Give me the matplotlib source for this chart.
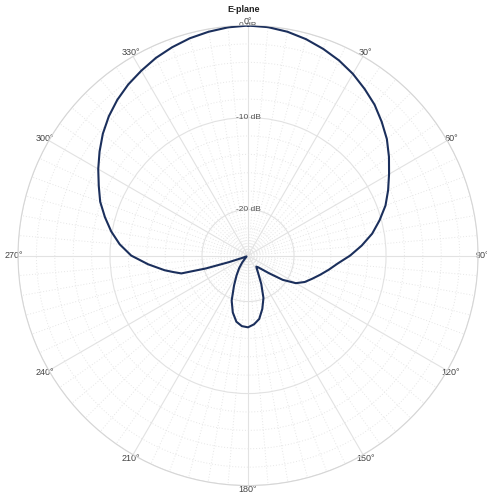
import numpy as np
import matplotlib
matplotlib.use("Agg")
import matplotlib.pyplot as plt

plt.rcParams['font.family'] = ['Liberation Sans', 'DejaVu Sans']

# E-plane pattern (angle in degrees, gain in dB)
angles_deg = [0, 5, 10, 15, 20, 25, 30, 35, 40, 45, 50, 55, 60, 65, 70,
              75, 80, 85, 90, 95, 100, 105, 110, 115, 120, 125, 130, 135,
              139, 143, 147, 150, 155, 160, 165, 170, 175, 180, 185, 190,
              195, 200, 205, 210, 215, 220, 227, 235, 242, 248, 251, 253,
              255, 257.5, 260, 265, 270, 275, 280, 285, 290, 295, 300, 305,
              310, 315, 320, 325, 330, 335, 340, 345, 350, 355, 360]
gain_db = [0.0, -0.08, -0.3, -0.65, -1.1, -1.6, -2.2, -2.9, -3.6, -4.45,
           -5.3, -6.3, -7.3, -8.2, -9.1, -10.2, -11.3, -12.6, -13.9, -15.2,
           -16.1, -16.9, -17.6, -18.2, -19.0, -20.4, -22.0, -22.9, -23.3,
           -23.5, -23.2, -22.8, -21.6, -20.1, -19.0, -18.0, -17.5, -17.2,
           -17.3, -17.7, -18.6, -19.8, -21.4, -22.5, -23.3, -24.0, -24.6,
           -24.8, -24.8, -24.3, -22.8, -20.2, -17.5, -16.7, -15.8, -14.1,
           -12.3, -11.0, -9.9, -8.9, -7.9, -7.1, -6.2, -5.3, -4.4, -3.6,
           -2.9, -2.3, -1.8, -1.3, -0.9, -0.55, -0.3, -0.1, 0.0]

r_ticks = [-20, -10, 0]
r_labels = ['-20 dB', '-10 dB', '0 dB']
theta_ticks = list(range(0, 360, 30))
theta_labels = ['0°', '30°', '60°', '90°', '120°', '150°',
                '180°', '210°', '240°', '270°', '300°', '330°']

fig = plt.figure(figsize=(4.87, 4.97), dpi=100)
ax = fig.add_axes([0.037, 0.023, 0.9446, 0.9256], projection='polar')
ax.set_theta_zero_location('N')
ax.set_theta_direction(-1)
ax.set_rlim(-25, 0)
ax.set_axisbelow(True)

ax.set_thetagrids(theta_ticks, labels=theta_labels)
ax.set_xticks(np.deg2rad(np.arange(0, 360, 5)), minor=True)
ax.set_yticks(r_ticks)
ax.set_yticks(np.arange(-24, 0, 2), minor=True)
ax.set_yticklabels([])
ax.tick_params(axis='x', which='major', labelsize=6.5, colors='#444444', pad=-4)
ax.tick_params(which='both', length=0)

ax.grid(True, which='major', color='#e2e2e2', lw=0.8, ls='-')
ax.grid(True, which='minor', color='#e6e6e6', lw=0.7, ls=(0, (1, 2)))
ax.spines['polar'].set_color('#d6d6d6')
ax.spines['polar'].set_linewidth(0.8)

for r, lab in zip(r_ticks, r_labels):
    ax.text(0, r, lab, ha='center', va='center', fontsize=6,
            color='#555555', zorder=1)

theta = np.deg2rad(angles_deg)
ax.plot(theta, gain_db, color='#1b2f5c', lw=1.5, zorder=3,
        solid_joinstyle='round')

fig.suptitle('E-plane', y=1 - 10 / 497, va='center', fontsize=6.5,
             fontweight='bold', color='#222222')

fig.savefig('out.png', dpi=100)
